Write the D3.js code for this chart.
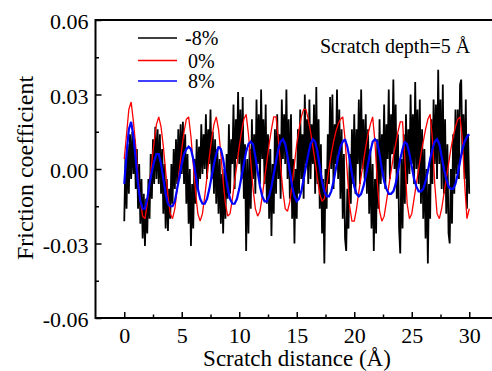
<!DOCTYPE html>
<html><head><meta charset="utf-8">
<script src="https://cdn.jsdelivr.net/npm/d3@7"></script>
<style>
html,body{margin:0;padding:0;background:#fff;}
svg{display:block;}
svg text{font-family:"Liberation Serif","Times New Roman",serif !important;}
</style></head>
<body><svg id="c" width="492" height="371"></svg>
<script>
// ---- data ----
const seriesNames = ["-8%", "0%", "8%"];
const seriesColors = ["#000000", "#ff0000", "#0000ff"];
const blackStart = 0, blackStep = 0.1;
const blackValues = [
-0.021,0.004,-0.016,0.010,-0.010,0.014,-0.004,0.015,-0.002,0.012,
-0.008,0.008,-0.016,0.002,-0.022,-0.004,-0.028,-0.010,-0.031,-0.012,
-0.026,-0.004,-0.020,0.006,-0.012,0.012,-0.006,0.017,-0.004,0.016,
-0.006,0.014,-0.010,0.008,-0.018,0.002,-0.024,-0.004,-0.025,-0.008,
-0.020,0.002,-0.014,0.008,-0.008,0.012,-0.006,0.016,-0.004,0.018,
-0.002,0.019,-0.006,0.014,-0.014,0.006,-0.022,0.000,-0.031,-0.006,
-0.024,0.004,-0.014,0.012,-0.008,0.009,-0.004,0.018,-0.002,0.014,
0.000,0.022,-0.004,0.016,0.002,0.024,-0.004,0.015,-0.010,0.012,
-0.014,0.008,-0.018,0.004,-0.022,-0.002,-0.026,0.000,-0.020,0.006,
-0.012,0.018,-0.010,0.012,0.002,0.026,-0.008,0.020,0.004,0.031,
0.002,0.024,-0.004,0.029,-0.012,0.010,-0.033,0.004,-0.026,0.008,
-0.016,0.020,-0.004,0.014,-0.010,0.028,0.002,0.022,-0.006,0.032,
0.004,0.020,-0.006,0.026,-0.014,0.014,-0.020,0.008,-0.027,0.002,
-0.018,0.016,-0.010,0.022,-0.004,0.014,-0.012,0.028,0.004,0.022,
0.002,0.032,-0.004,0.020,-0.012,0.022,-0.020,0.004,-0.030,0.000,
-0.020,0.016,-0.010,0.024,-0.004,0.014,-0.012,0.030,0.002,0.020,
-0.006,0.028,-0.004,0.018,0.002,0.026,-0.010,0.033,-0.006,0.020,
-0.016,0.010,-0.026,-0.004,-0.038,0.000,-0.016,0.014,-0.006,0.029,
0.000,0.030,-0.008,0.018,0.002,0.032,-0.004,0.024,-0.012,0.016,
-0.020,0.006,-0.028,-0.033,-0.008,-0.024,0.006,-0.014,0.016,-0.006,
0.022,-0.010,0.016,0.002,0.028,-0.006,0.032,0.000,0.020,-0.004,
0.022,-0.010,0.016,-0.018,0.008,-0.024,0.002,-0.033,-0.004,-0.026,
0.012,-0.016,0.020,-0.006,0.014,-0.002,0.026,-0.008,0.018,0.004,
0.032,-0.004,0.022,0.006,0.036,0.000,0.026,-0.012,0.014,-0.024,
-0.034,0.004,-0.024,0.014,-0.014,0.022,-0.006,0.016,-0.002,0.030,
0.002,0.022,-0.006,0.035,0.000,0.024,-0.006,0.028,-0.014,0.016,
-0.020,0.008,-0.028,0.000,-0.038,-0.006,-0.020,0.020,-0.006,0.028,
0.002,0.026,-0.004,0.040,0.002,0.028,-0.008,0.034,-0.010,0.020,
-0.018,0.010,-0.026,-0.030,0.000,-0.022,0.014,-0.010,0.024,-0.002,
0.024,-0.004,0.034,0.036,0.006,0.022,-0.004,0.028,-0.016,0.014,
-0.010
];
const redStart = 0, redStep = 0.2;
const redValues = [
0.004,0.014,0.024,0.027,0.019,0.009,-0.003,-0.013,-0.019,-0.020,
-0.014,-0.006,0.003,0.011,0.018,0.021,0.017,0.009,-0.001,-0.011,
-0.018,-0.020,-0.016,-0.008,0.000,0.008,0.015,0.020,0.021,0.013,
0.002,-0.009,-0.018,-0.021,-0.018,-0.011,-0.003,0.005,0.012,0.018,
0.021,0.016,0.006,-0.005,-0.014,-0.019,-0.018,-0.012,-0.005,0.002,
0.009,0.015,0.020,0.022,0.014,0.003,-0.008,-0.016,-0.019,-0.017,
-0.011,-0.004,0.003,0.010,0.016,0.021,0.021,0.012,0.001,-0.009,
-0.016,-0.017,-0.013,-0.006,0.002,0.010,0.016,0.021,0.024,0.024,
0.020,0.015,0.009,0.003,-0.004,-0.010,-0.013,-0.012,-0.007,0.000,
0.006,0.011,0.015,0.018,0.020,0.021,0.012,-0.002,-0.015,-0.021,
-0.021,-0.016,-0.009,-0.003,0.003,0.009,0.014,0.018,0.021,0.011,
-0.005,-0.017,-0.021,-0.019,-0.013,-0.007,-0.001,0.005,0.010,0.015,
0.019,0.019,0.004,-0.014,-0.020,-0.018,-0.012,-0.006,0.000,0.006,
0.011,0.016,0.020,0.022,0.012,-0.006,-0.018,-0.020,-0.016,-0.010,
-0.004,0.002,0.008,0.013,0.017,0.020,0.021,0.012,-0.006,-0.020,
-0.016
];
const blueStart = 0, blueStep = 0.2;
const blueValues = [
-0.006,0.006,0.016,0.019,0.013,0.004,-0.006,-0.013,-0.016,-0.016,
-0.012,-0.006,-0.001,0.003,0.006,0.006,0.002,-0.004,-0.010,-0.014,
-0.015,-0.015,-0.013,-0.008,-0.003,0.002,0.006,0.008,0.009,0.008,
0.004,-0.002,-0.008,-0.012,-0.014,-0.014,-0.012,-0.008,-0.003,0.002,
0.006,0.009,0.008,0.004,-0.002,-0.008,-0.012,-0.014,-0.014,-0.012,
-0.008,-0.003,0.002,0.007,0.010,0.011,0.010,0.005,-0.001,-0.007,
-0.011,-0.013,-0.013,-0.011,-0.007,-0.002,0.003,0.008,0.011,0.012,
0.010,0.005,-0.001,-0.007,-0.011,-0.013,-0.012,-0.009,-0.004,0.001,
0.006,0.010,0.012,0.011,0.007,0.001,-0.005,-0.009,-0.011,-0.011,
-0.009,-0.005,0.000,0.005,0.009,0.011,0.012,0.009,0.004,-0.002,
-0.007,-0.010,-0.011,-0.010,-0.007,-0.003,0.002,0.007,0.011,0.012,
0.011,0.006,0.000,-0.005,-0.008,-0.010,-0.010,-0.009,-0.006,-0.001,
0.004,0.008,0.011,0.010,0.006,0.001,-0.004,-0.007,-0.009,-0.009,
-0.008,-0.005,-0.001,0.004,0.008,0.011,0.012,0.010,0.005,0.000,
-0.004,-0.007,-0.008,-0.008,-0.006,-0.002,0.003,0.008,0.011,0.013,
0.014
];
const xTicks = [0, 5, 10, 15, 20, 25, 30];
const xMinorTicks = [2.5, 7.5, 12.5, 17.5, 22.5, 27.5];
const yTicks = [-0.06, -0.03, 0.00, 0.03, 0.06];
const yTickLabels = ["-0.06", "-0.03", "0.00", "0.03", "0.06"];
const yMinorTicks = [-0.045, -0.015, 0.015, 0.045];
const xTitle = "Scratch distance (Å)";
const yTitle = "Friction coefficient";
const note = "Scratch depth=5 Å";

// ---- chart ----
const svg = d3.select("#c");
svg.append("rect").attr("width",492).attr("height",371).attr("fill","#fff");
const L = 95.5, T = 20, B = 318, R = 498;
const x = d3.scaleLinear().domain([-2.5, 32.5]).range([L, R]);
const y = d3.scaleLinear().domain([-0.06, 0.06]).range([B, T]);

function toPts(vals, start, step){ return vals.map((v,i)=>[start + i*step, v]); }
const line = d3.line().x(d=>x(d[0])).y(d=>y(d[1]));
const series = [
  {pts: toPts(blackValues, blackStart, blackStep), color: seriesColors[0], w: 1.8},
  {pts: toPts(redValues, redStart, redStep), color: seriesColors[1], w: 1.3},
  {pts: toPts(blueValues, blueStart, blueStep), color: seriesColors[2], w: 2.2}
];
const g = svg.append("g");
series.forEach(s => {
  g.append("path").datum(s.pts).attr("d", line)
   .attr("fill","none").attr("stroke", s.color).attr("stroke-width", s.w)
   .attr("stroke-linejoin","miter").attr("stroke-miterlimit", 2);
});

// axes
const ax = svg.append("g").attr("transform",`translate(0,${B})`)
  .call(d3.axisBottom(x).tickValues(xTicks).tickSize(-6).tickPadding(9).tickFormat(d3.format("d")));
const axm = svg.append("g").attr("transform",`translate(0,${B})`)
  .call(d3.axisBottom(x).tickValues(xMinorTicks).tickSize(-3.5).tickFormat(""));
const ay = svg.append("g").attr("transform",`translate(${L},0)`)
  .call(d3.axisLeft(y).tickValues(yTicks).tickSize(-6).tickPadding(7).tickFormat((d,i)=>yTickLabels[i]));
const aym = svg.append("g").attr("transform",`translate(${L},0)`)
  .call(d3.axisLeft(y).tickValues(yMinorTicks).tickSize(-3.5).tickFormat(""));
[ax,axm,ay,aym].forEach(a=>{
  a.attr("font-family",null).attr("font-size",null);
  a.select(".domain").remove();
  a.selectAll("line").attr("stroke","#000").attr("stroke-width",1.5);
  a.selectAll("text").style("font-size","22px").attr("fill","#000");
});
ay.selectAll("text").attr("dy",null).attr("y",8.5);

// frame
svg.append("path").attr("d",`M${L},${T}H${R}M${L},${B}H${R}M${L},${T-1}V${B+1}`)
  .attr("stroke","#000").attr("stroke-width",2).attr("fill","none");

// titles
svg.append("text").attr("x",297).attr("y",366).attr("text-anchor","middle")
  .style("font-size","23px").text(xTitle);
svg.append("text").attr("transform","translate(33,168) rotate(-90)").attr("text-anchor","middle")
  .style("font-size","24px").text(yTitle);

// legend
const legY = [38, 60.5, 81];
const legTextX = [185, 188, 188];
seriesNames.forEach((n,i)=>{
  svg.append("line").attr("x1",138).attr("x2",177).attr("y1",legY[i]).attr("y2",legY[i])
    .attr("stroke",seriesColors[i]).attr("stroke-width",1.6);
  svg.append("text").attr("x",legTextX[i]).attr("y",legY[i]+7)
    .style("font-size","20px").text(n);
});
svg.append("text").attr("x",320).attr("y",53).style("font-size","20px").text(note);
</script></body></html>
